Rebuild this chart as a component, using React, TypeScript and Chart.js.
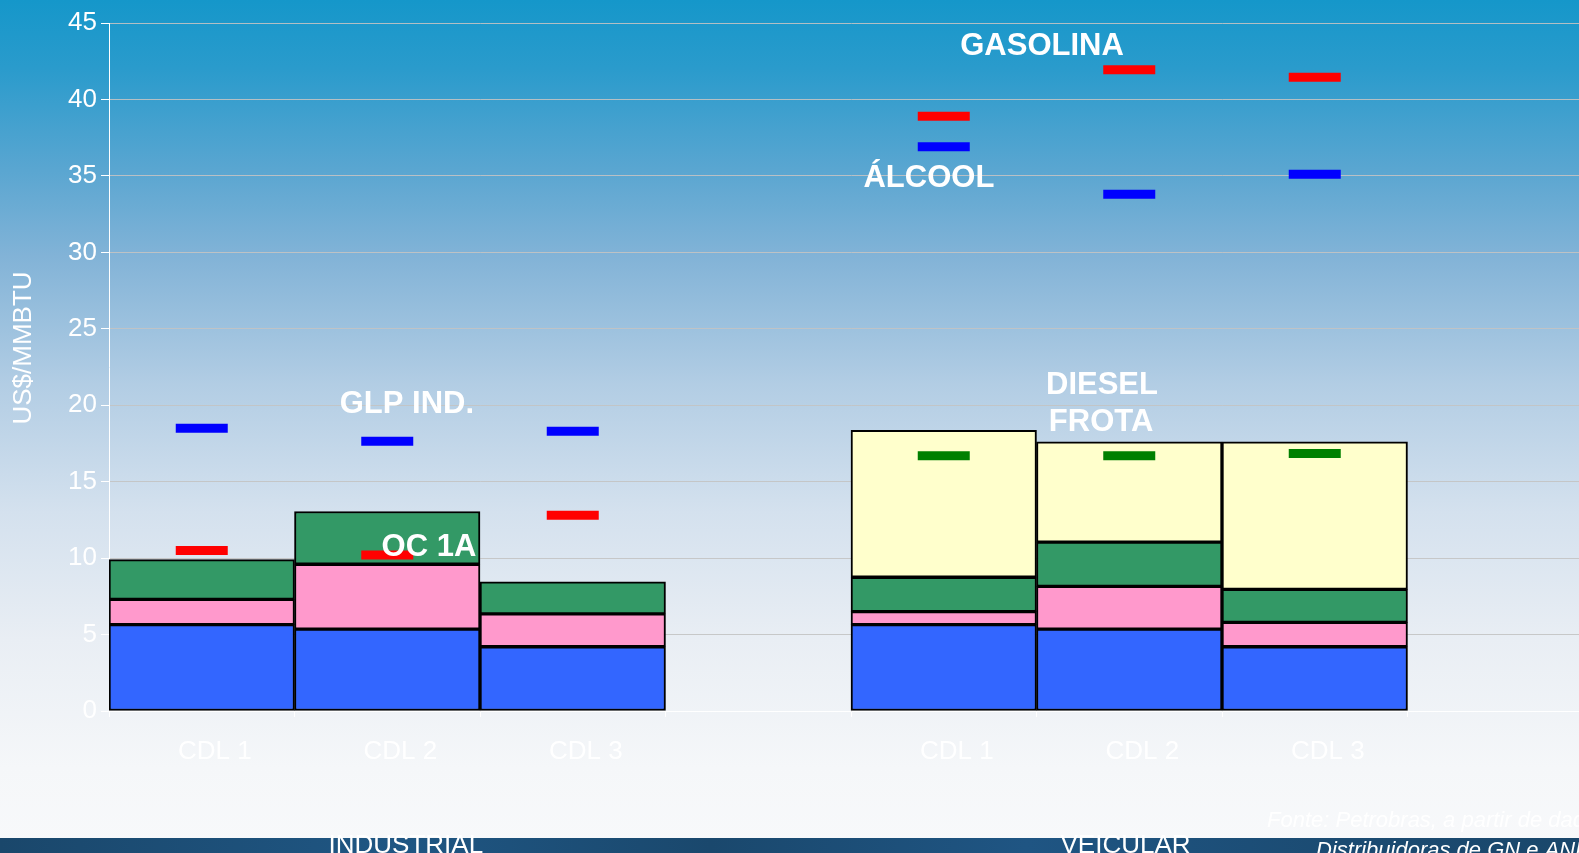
import React, { useEffect, useRef } from "react";
import { Chart, registerables } from "chart.js";

Chart.register(...registerables);

// ---------- data ----------
const categories = ["CDL 1", "CDL 2", "CDL 3", "", "CDL 1", "CDL 2", "CDL 3", ""];
const groupLabels = ["INDUSTRIAL", "VEICULAR"];
const yTickValues = [0, 5, 10, 15, 20, 25, 30, 35, 40, 45];

// stacked cost components (US$/MMBTU)
const blueSeg = [5.65, 5.35, 4.2, null, 5.65, 5.35, 4.2, null];
const pinkSeg = [1.65, 4.25, 2.15, null, 0.85, 2.8, 1.6, null];
const greenSeg = [2.6, 3.45, 2.1, null, 2.25, 2.9, 2.15, null];
const yellowSeg = [null, null, null, null, 9.6, 6.55, 9.65, null];

// competing fuel prices (markers)
const redMarks = [10.5, 10.2, 12.8, null, 38.9, 41.95, 41.45, null];
const blueMarks = [18.5, 17.65, 18.3, null, 36.9, 33.8, 35.1, null];
const greenMarks = [null, null, null, null, 16.7, 16.7, 16.85, null];

// text annotations placed in data space (category index, value)
const annotations = [
  { text: "GASOLINA", xi: 4.53, yv: 42.9 },
  { text: "ÁLCOOL", xi: 3.92, yv: 34.28 },
  { text: "GLP IND.", xi: 1.106, yv: 19.46 },
  { text: "OC 1A", xi: 1.225, yv: 10.16 },
  { text: "DIESEL", xi: 4.853, yv: 20.73 },
  { text: "FROTA", xi: 4.848, yv: 18.33 },
];
const groupLabelPos = [1.1, 4.98];
const yTitle = "US$/MMBTU";
const sourceLine1 = "Fonte: Petrobras, a partir de dados das";
const sourceLine2 = "Distribuidoras de GN e ANP";

const FONT = '"Liberation Sans", Arial, Helvetica, sans-serif';

const overlayPlugin = {
  id: "overlay",
  afterDatasetsDraw(chart: any) {
    const { ctx, chartArea } = chart;
    const xs = chart.scales.x;
    const ys = chart.scales.y;
    ctx.save();
    ctx.fillStyle = "#ffffff";
    ctx.textBaseline = "alphabetic";
    ctx.textAlign = "center";
    ctx.font = `bold 31px ${FONT}`;
    for (const a of annotations) {
      ctx.fillText(a.text, xs.getPixelForValue(a.xi), ys.getPixelForValue(a.yv));
    }
    // group labels in the bottom band
    ctx.font = `26px ${FONT}`;
    groupLabels.forEach((g, i) => {
      ctx.fillText(g, xs.getPixelForValue(groupLabelPos[i]), 853);
    });
    // source
    ctx.textAlign = "left";
    ctx.font = `italic 22px ${FONT}`;
    ctx.fillText(sourceLine1, 1267, 827);
    ctx.fillText(sourceLine2, 1316, 857);
    // y title
    ctx.save();
    ctx.font = `26px ${FONT}`;
    ctx.textAlign = "center";
    ctx.textBaseline = "middle";
    ctx.translate(24, (chartArea.top + chartArea.bottom) / 2 - 19);
    ctx.rotate(-Math.PI / 2);
    ctx.fillText(yTitle, 0, 0);
    ctx.restore();
    ctx.restore();
  },
};

function barSet(label: string, data: (number | null)[], color: string) {
  return {
    type: "bar" as const,
    label,
    data,
    backgroundColor: color,
    borderColor: "#000000",
    borderWidth: 2,
    borderSkipped: false,
    barPercentage: 1,
    categoryPercentage: 1,
    stack: "cost",
    order: 1,
  };
}

function markSet(label: string, data: (number | null)[], color: string) {
  return {
    type: "line" as const,
    label,
    data,
    showLine: false,
    pointStyle: "line",
    pointRadius: 26,
    pointHoverRadius: 26,
    pointBorderWidth: 9,
    pointHoverBorderWidth: 9,
    borderColor: color,
    pointBorderColor: color,
    backgroundColor: color,
    stack: label,
    order: 0,
  };
}

export default function App() {
  const ref = useRef<HTMLCanvasElement>(null);
  useEffect(() => {
    if (!ref.current) return;
    const chart = new Chart(ref.current, {
      data: {
        labels: categories,
        datasets: [
          markSet("red", redMarks, "#ff0000"),
          markSet("blue", blueMarks, "#0000ff"),
          markSet("green", greenMarks, "#008000"),
          barSet("b", blueSeg, "#3366ff"),
          barSet("p", pinkSeg, "#ff99cc"),
          barSet("g", greenSeg, "#339966"),
          barSet("y", yellowSeg, "#ffffcc"),
        ] as any,
      },
      options: {
        responsive: false,
        animation: false,
        events: [],
        layout: { autoPadding: false, padding: { top: 23, right: 7, left: 0, bottom: 0 } },
        plugins: { legend: { display: false }, tooltip: { enabled: false } },
        scales: {
          x: {
            type: "category",
            stacked: true,
            offset: true,
            grid: {
              offset: true,
              drawOnChartArea: false,
              drawTicks: true,
              tickLength: 6,
              tickColor: "#ffffff",
            },
            border: { color: "#ffffff", width: 1 },
            ticks: {
              color: "#ffffff",
              font: { family: FONT, size: 26 },
              padding: 19,
              labelOffset: 13,
              autoSkip: false,
              maxRotation: 0,
            },
            afterFit: (s: any) => {
              s.height = 142;
            },
          },
          y: {
            stacked: true,
            min: 0,
            max: 45,
            grid: {
              color: "rgba(195,195,195,0.9)",
              lineWidth: 1,
              tickColor: "#ffffff",
              tickLength: 8,
            },
            border: { color: "#ffffff", width: 1 },
            ticks: {
              color: "#ffffff",
              font: { family: FONT, size: 26 },
              padding: 4,
            },
            afterBuildTicks: (s: any) => {
              s.ticks = yTickValues.map((v) => ({ value: v }));
            },
            afterFit: (s: any) => {
              s.width = 109;
            },
          },
        },
      },
      plugins: [overlayPlugin],
    });
    return () => chart.destroy();
  }, []);

  return (
    <div
      style={{
        position: "fixed",
        left: 0,
        top: 0,
        width: 1579,
        height: 853,
        overflow: "hidden",
        background:
          "linear-gradient(180deg, #1597ca 0%, #2a9bcc 8%, #5aa6d1 20%, #82b3d7 30%, #b2cde4 45%, #d4e1ee 60%, #e9eef4 75%, #f5f7f9 90%, #f8f9fb 100%)",
      }}
    >
      <div
        style={{
          position: "absolute",
          left: 0,
          top: 838,
          width: 1579,
          height: 15,
          background:
            "linear-gradient(90deg, #1a476b 0%, #1f5683 25%, #1a486d 45%, #1f5583 65%, #1b4b72 85%, #1a476b 100%)",
        }}
      />
      <canvas
        ref={ref}
        width={1600}
        height={853}
        style={{ position: "absolute", left: 0, top: 0, width: 1600, height: 853 }}
      />
    </div>
  );
}
